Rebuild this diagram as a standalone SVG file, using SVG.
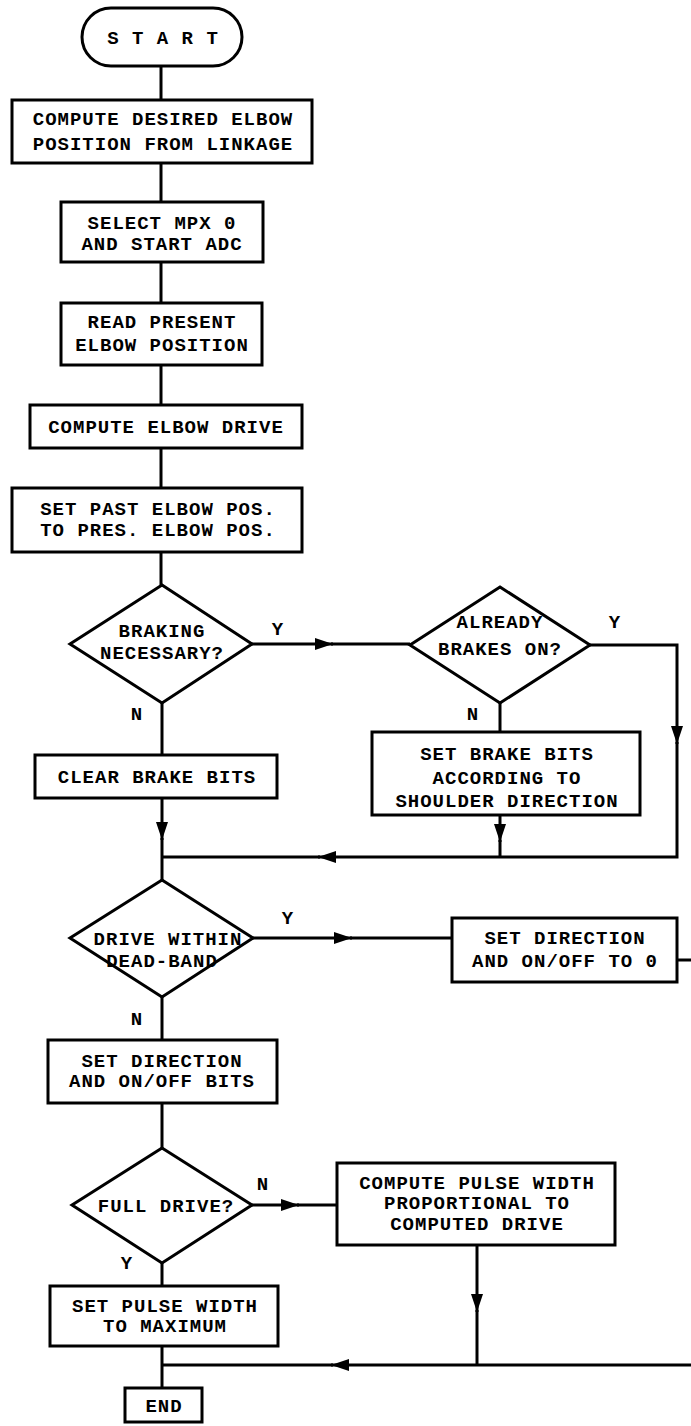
<svg xmlns="http://www.w3.org/2000/svg" width="691" height="1426" viewBox="0 0 691 1426">
<style>
.s{fill:#fff;stroke:#000;stroke-width:3}
.c{fill:none;stroke:#000;stroke-width:3}
text{font-family:"Liberation Mono","DejaVu Sans Mono",monospace;font-weight:bold;font-size:19px;letter-spacing:1px;text-anchor:middle;fill:#000}
</style>
<defs>
<marker id="a" markerUnits="userSpaceOnUse" markerWidth="20" markerHeight="14" refX="18" refY="6" orient="auto"><path d="M0,0 L18,6 L0,12 z" fill="#000"/></marker>
</defs>
<rect width="691" height="1426" fill="#fff"/>
<g id="connectors">
<path class="c" d="M161,66 V100"/>
<path class="c" d="M161,163 V202"/>
<path class="c" d="M161,262 V303"/>
<path class="c" d="M161,365 V405"/>
<path class="c" d="M161,448 V488"/>
<path class="c" d="M161,552 V585"/>
<path class="c" d="M252,644 H333" marker-end="url(#a)"/>
<path class="c" d="M331,644 H410"/>
<path class="c" d="M590,645 H677 V744" marker-end="url(#a)"/>
<path class="c" d="M677,742 V857 H318" marker-end="url(#a)"/>
<path class="c" d="M320,857 H162"/>
<path class="c" d="M500,703 V732"/>
<path class="c" d="M162,703 V755"/>
<path class="c" d="M500,815 V842" marker-end="url(#a)"/>
<path class="c" d="M500,840 V857"/>
<path class="c" d="M162,798 V840" marker-end="url(#a)"/>
<path class="c" d="M162,838 V880"/>
<path class="c" d="M253,938 H352" marker-end="url(#a)"/>
<path class="c" d="M350,938 H452"/>
<path class="c" d="M677,960 H691"/>
<path class="c" d="M162,997 V1040"/>
<path class="c" d="M162,1103 V1148"/>
<path class="c" d="M252,1205 H299" marker-end="url(#a)"/>
<path class="c" d="M297,1205 H337"/>
<path class="c" d="M162,1263 V1286"/>
<path class="c" d="M477,1245 V1312" marker-end="url(#a)"/>
<path class="c" d="M477,1310 V1365"/>
<path class="c" d="M691,1365 H331" marker-end="url(#a)"/>
<path class="c" d="M333,1365 H162"/>
<path class="c" d="M162,1346 V1388"/>
</g>
<g id="start"><rect class="s" x="82" y="8" width="160" height="58" rx="29"/><text x="163" y="44">S T A R T</text></g>
<g id="n1"><rect class="s" x="12" y="100" width="300" height="63"/><text x="163" y="125">COMPUTE DESIRED ELBOW</text><text x="163" y="150">POSITION FROM LINKAGE</text></g>
<g id="n2"><rect class="s" x="61" y="202" width="202" height="60"/><text x="162" y="229">SELECT MPX 0</text><text x="162" y="250">AND START ADC</text></g>
<g id="n3"><rect class="s" x="61" y="303" width="201" height="62"/><text x="162" y="328">READ PRESENT</text><text x="162" y="351">ELBOW POSITION</text></g>
<g id="n4"><rect class="s" x="30" y="405" width="272" height="43"/><text x="166" y="433">COMPUTE ELBOW DRIVE</text></g>
<g id="n5"><rect class="s" x="12" y="488" width="290" height="64"/><text x="158" y="515">SET PAST ELBOW POS.</text><text x="158" y="536">TO PRES. ELBOW POS.</text></g>
<g id="d1"><polygon class="s" points="162,585 252,644 162,703 70,644"/><text x="162" y="637">BRAKING</text><text x="162" y="659">NECESSARY?</text><text x="278" y="635">Y</text><text x="137" y="720">N</text></g>
<g id="d2"><polygon class="s" points="500,587 590,645 500,703 410,645"/><text x="500" y="628">ALREADY</text><text x="500" y="655">BRAKES ON?</text><text x="615" y="628">Y</text><text x="473" y="720">N</text></g>
<g id="n6"><rect class="s" x="35" y="755" width="242" height="43"/><text x="157" y="783">CLEAR BRAKE BITS</text></g>
<g id="n7"><rect class="s" x="372" y="732" width="268" height="83"/><text x="507" y="760">SET BRAKE BITS</text><text x="507" y="784">ACCORDING TO</text><text x="507" y="807">SHOULDER DIRECTION</text></g>
<g id="d3"><polygon class="s" points="162,880 253,938 162,997 70,938"/><text x="168" y="945">DRIVE WITHIN</text><text x="162" y="967">DEAD-BAND</text><text x="288" y="924">Y</text><text x="137" y="1025">N</text></g>
<g id="n8"><rect class="s" x="452" y="918" width="225" height="64"/><text x="565" y="944">SET DIRECTION</text><text x="565" y="967">AND ON/OFF TO 0</text></g>
<g id="n9"><rect class="s" x="48" y="1040" width="229" height="63"/><text x="162" y="1067">SET DIRECTION</text><text x="162" y="1087">AND ON/OFF BITS</text></g>
<g id="d4"><polygon class="s" points="162,1148 252,1205 162,1263 72,1205"/><text x="166" y="1212">FULL DRIVE?</text><text x="263" y="1190">N</text><text x="127" y="1269">Y</text></g>
<g id="n10"><rect class="s" x="337" y="1163" width="278" height="82"/><text x="477" y="1189">COMPUTE PULSE WIDTH</text><text x="477" y="1209">PROPORTIONAL TO</text><text x="477" y="1230">COMPUTED DRIVE</text></g>
<g id="n11"><rect class="s" x="50" y="1286" width="228" height="60"/><text x="165" y="1312">SET PULSE WIDTH</text><text x="165" y="1332">TO MAXIMUM</text></g>
<g id="end"><rect class="s" x="125" y="1388" width="77" height="34"/><text x="164" y="1412">END</text></g>
</svg>
